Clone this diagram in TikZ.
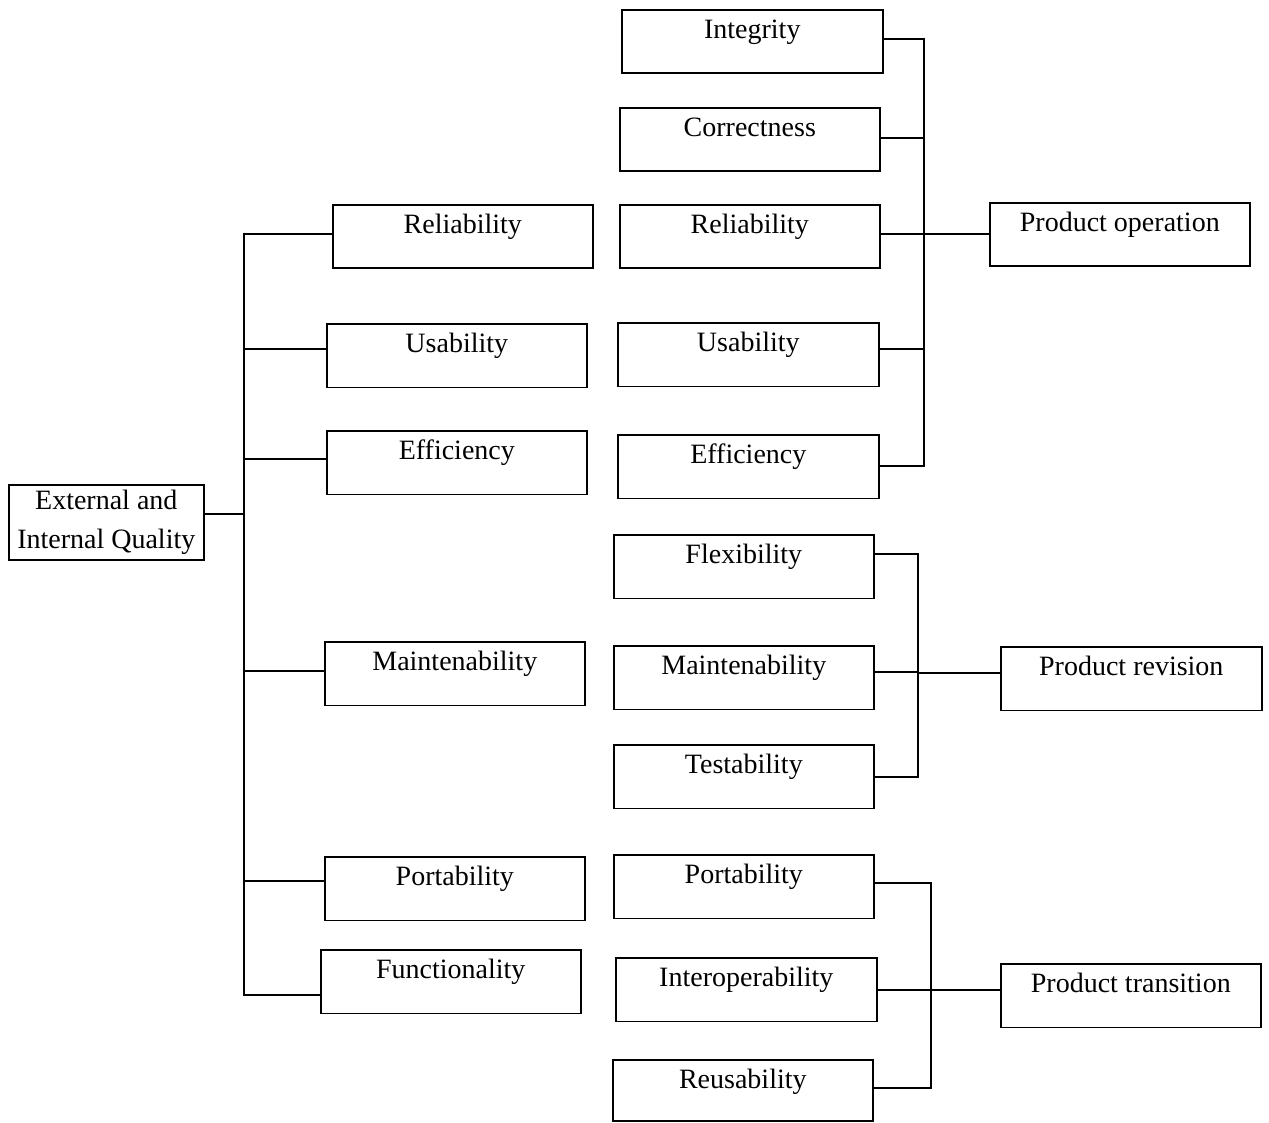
\documentclass[tikz,border=0pt]{standalone}
\usepackage{fontspec}
\setmainfont{Liberation Serif}
\begin{document}
\begin{tikzpicture}[x=1pt,y=-1pt,line width=1.6pt,
  qbox/.style={draw, anchor=north west, inner sep=0pt, text height=29pt, text depth=34.5pt,
    minimum width=260pt, font=\fontsize{28}{32}\selectfont},
  lbox/.style={draw, anchor=north west, inner sep=0pt, minimum width=195pt, minimum height=75pt,
    align=center, font=\fontsize{28}{39}\selectfont},
  conn/.style={line width=1.6pt}]
\useasboundingbox (0,0) rectangle (1269,1123);

% left root
\node[lbox] (L) at (8,484) {External and\\Internal Quality};

% middle column
\node[qbox] (mRel)  at (332,204) {Reliability};
\node[qbox] (mUse)  at (326,323) {Usability};
\node[qbox] (mEff)  at (326,430) {Efficiency};
\node[qbox] (mMain) at (324,641) {Maintenability};
\node[qbox] (mPort) at (324,856) {Portability};
\node[qbox] (mFunc) at (320,949) {Functionality};

% right column
\node[qbox, minimum width=261pt] (rInt) at (621,9) {Integrity};
\node[qbox] (rCor) at (619,107) {Correctness};
\node[qbox] (rRel) at (619,204) {Reliability};
\node[qbox, minimum width=261pt] (rUse) at (617,322) {Usability};
\node[qbox, minimum width=261pt] (rEff) at (617,434) {Efficiency};
\node[qbox] (POp) at (989,202) {Product operation};

\node[qbox] (rFlex) at (613,534) {Flexibility};
\node[qbox] (rMain) at (613,645) {Maintenability};
\node[qbox] (rTest) at (613,744) {Testability};
\node[qbox, minimum width=261pt] (PRev) at (1000,646) {Product revision};

\node[qbox] (rPort) at (613,854) {Portability};
\node[qbox, minimum width=261pt] (rIop) at (615,957) {Interoperability};
\node[qbox, text depth=32pt] (rReu) at (612,1059) {Reusability};
\node[qbox] (PTr) at (1000,963) {Product transition};

% trunk from root
\coordinate (trT) at (244,233);
\coordinate (trB) at (244,994);
\draw[conn] ([yshift=8.5pt]L.east) -| (trT);
\draw[conn] (trT) -- (trB);
\draw[conn] (trT) |- ([yshift=2.75pt]mRel.west);
\draw[conn] (trT) |- ([yshift=6.75pt]mUse.west);
\draw[conn] (trT) |- ([yshift=3.75pt]mEff.west);
\draw[conn] (trT) |- ([yshift=2.75pt]mMain.west);
\draw[conn] (trT) |- ([yshift=7.75pt]mPort.west);
\draw[conn] (trT) |- ([yshift=-13.25pt]mFunc.west);

% product operation
\coordinate (opT) at (924,38);
\coordinate (opB) at (924,465);
\draw[conn] (opT) -- (opB);
\draw[conn] ([yshift=2.75pt]rInt.east) -| (opT);
\draw[conn] ([yshift=1.75pt]rCor.east) -| (opT);
\draw[conn] ([yshift=2.75pt]rRel.east) -| (opT);
\draw[conn] ([yshift=5.75pt]rUse.east) -| (opT);
\draw[conn] ([yshift=0.75pt]rEff.east) -| (opT);
\draw[conn] (opT) |- ([yshift=0.75pt]POp.west);

% product revision
\coordinate (rvT) at (918,553);
\coordinate (rvB) at (918,776);
\draw[conn] (rvT) -- (rvB);
\draw[conn] ([yshift=12.75pt]rFlex.east) -| (rvT);
\draw[conn] ([yshift=5.75pt]rMain.east) -| (rvT);
\draw[conn] ([yshift=-0.25pt]rTest.east) -| (rvT);
\draw[conn] (rvT) |- ([yshift=5.75pt]PRev.west);

% product transition
\coordinate (tsT) at (931,882);
\coordinate (tsB) at (931,1087);
\draw[conn] (tsT) -- (tsB);
\draw[conn] ([yshift=3.75pt]rPort.east) -| (tsT);
\draw[conn] ([yshift=-0.25pt]rIop.east) -| (tsT);
\draw[conn] ([yshift=2.5pt]rReu.east) -| (tsT);
\draw[conn] (tsT) |- ([yshift=5.75pt]PTr.west);
\end{tikzpicture}
\end{document}
